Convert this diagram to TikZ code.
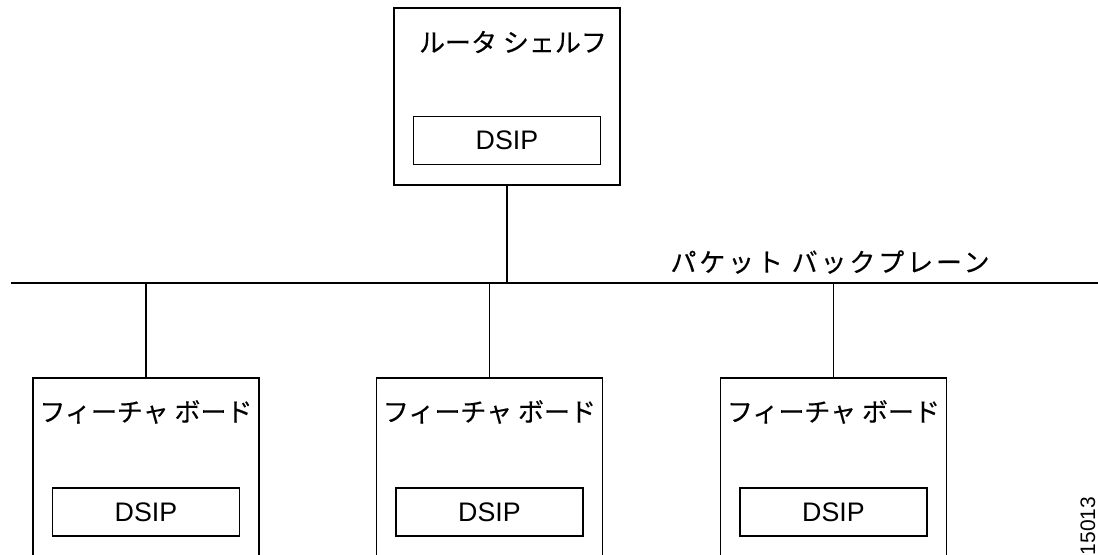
\documentclass[tikz,border=0pt]{standalone}
\usepackage{fontspec}
\setmainfont{Liberation Sans}
\newfontfamily\jpfont[FakeBold=0.3]{Noto Sans CJK JP}
\newfontfamily\jpwide[FakeBold=0.3,LetterSpace=11]{Noto Sans CJK JP}
\usepackage{tikz}
\usetikzlibrary{positioning}
\tikzset{Backplane/.style = {% styles for the shelf / board picture
    shelfbox/.style = {rectangle, draw, line width=0.65pt,
                       minimum width=113pt, minimum height=88.5pt},
    boardbox/.style = {rectangle, draw, line width=0.65pt,
                       minimum width=113pt, minimum height=120pt},
     dsipbox/.style = {rectangle, draw, line width=0.65pt,
                       minimum width=93.5pt, minimum height=24pt,
                       font=\fontsize{13.4}{15}\selectfont},
       title/.style = {inner sep=0pt, font=\jpfont\fontsize{13}{15}\selectfont},
        link/.style = {line width=0.65pt}}
        }

\begin{document}
\begin{tikzpicture}[Backplane, x=0.5pt, y=-0.5pt]
\useasboundingbox (0,0) rectangle (1098,554);
\clip (0,0) rectangle (1098,554);

% nodes
\node (shelf)   [shelfbox] at (507,96.5) {};
\node (shelfT)  [title]    at (513,42)   {ルータ シェルフ};
\node (dsip0)   [dsipbox]  at (507,140.5) {DSIP};

\node (board1)  [boardbox] at (146,498) {};
\node (board1T) [title]    at (146,412) {フィーチャ ボード};
\node (dsip1)   [dsipbox]  at (146,512) {DSIP};

\node (board2)  [boardbox] at (489.5,498) {};
\node (board2T) [title]    at (489.5,412) {フィーチャ ボード};
\node (dsip2)   [dsipbox]  at (489.5,512) {DSIP};

\node (board3)  [boardbox] at (833.5,498) {};
\node (board3T) [title]    at (833.5,412) {フィーチャ ボード};
\node (dsip3)   [dsipbox]  at (833.5,512) {DSIP};

% backplane
\coordinate (busL) at (11,283);
\coordinate (busR) at (1098,283);
\draw [link] (busL) -- (busR);
\node (busT) [title, font=\jpwide\fontsize{13}{15}\selectfont] at (830,262) {パケット バックプレーン};

% extra paths
\draw [link] (shelf.south) -- (shelf.south |- busL);
\draw [link] (board1.north) -- (board1.north |- busL);
\draw [link] (board2.north) -- (board2.north |- busL);
\draw [link] (board3.north) -- (board3.north |- busL);

\node (figno) [rotate=90, inner sep=0pt, font=\fontsize{10.5}{12}\selectfont] at (1088,526) {15013};
\end{tikzpicture}
\end{document}
